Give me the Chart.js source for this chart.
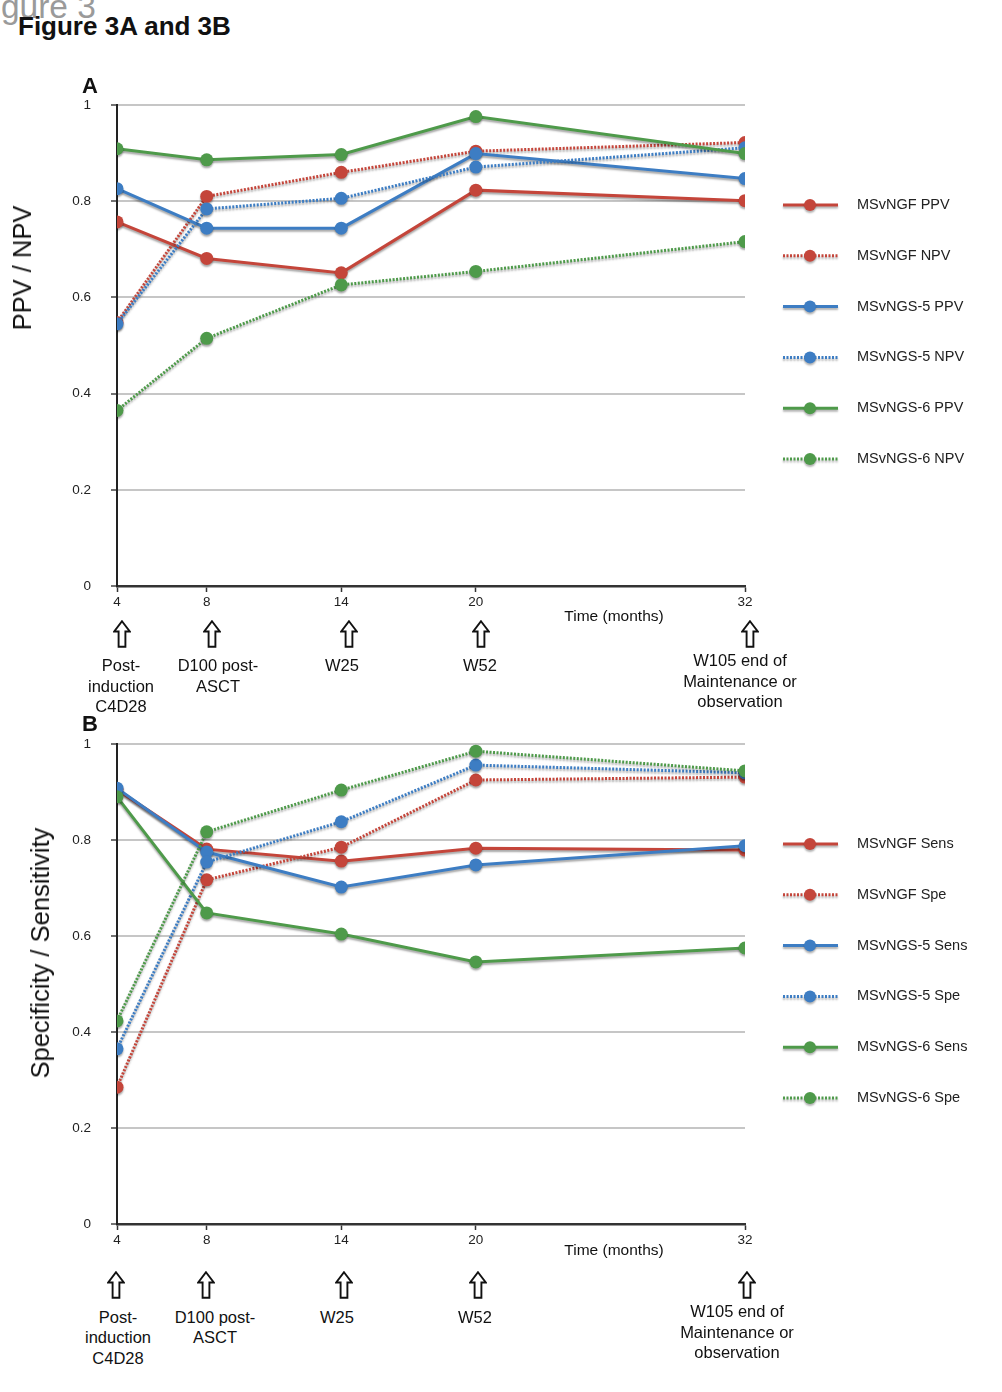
<!DOCTYPE html>
<html>
<head>
<meta charset="utf-8">
<title>Figure 3A and 3B</title>
<script src="https://cdn.jsdelivr.net/npm/chart.js@4.4.1/dist/chart.umd.min.js"></script>
<style>
  body {
    margin: 0;
    width: 1002px;
    height: 1392px;
    position: relative;
    overflow: hidden;
    background: #fff;
    font-family: "Liberation Sans", Arial, Helvetica, sans-serif;
    color: #111;
  }
  .abs { position: absolute; white-space: nowrap; }
  .chartbox { position: absolute; left: 0; width: 1002px; }
  .ghost { left: -27px; top: -10px; font-size: 33.5px; line-height: 33.5px; color: #9a9a9a; }
  .title { left: 18px; top: 13px; font-size: 26px; line-height: 26px; font-weight: bold; }
  .panel { font-size: 22px; line-height: 22px; font-weight: bold; }
  .ytitle { font-size: 25.5px; line-height: 28px; transform: translate(-50%, -50%) rotate(-90deg); }
  .xtitle { font-size: 15.5px; line-height: 18px; transform: translateX(-50%); }
  .milestone { font-size: 16.5px; line-height: 20.5px; text-align: center; transform: translateX(-50%); }
  .arrow { transform: translateX(-50%); }
</style>
</head>
<body>
<div class="chartbox" style="top:60px;height:560px"><canvas id="chartA"></canvas></div>
<div class="chartbox" style="top:699px;height:559px"><canvas id="chartB"></canvas></div>

<div class="abs ghost">Figure 3</div>
<div class="abs title">Figure 3A and 3B</div>
<div class="abs panel" style="left:82px;top:75px">A</div>
<div class="abs panel" style="left:82px;top:713px">B</div>
<div class="abs ytitle" style="left:22px;top:268px">PPV / NPV</div>
<div class="abs ytitle" style="left:40px;top:953px">Specificity / Sensitivity</div>
<div class="abs xtitle" style="left:614px;top:607px">Time (months)</div>
<div class="abs xtitle" style="left:614px;top:1241px">Time (months)</div>
<div id="notes"></div>

<script>
const timeMonths = [4, 8, 14, 20, 32];
const xTickValues = [4, 8, 14, 20, 32];

const seriesNamesA = ["MSvNGF PPV", "MSvNGF NPV", "MSvNGS-5 PPV", "MSvNGS-5 NPV", "MSvNGS-6 PPV", "MSvNGS-6 NPV"];
const ngfPpv = [0.757, 0.681, 0.651, 0.823, 0.801];
const ngfNpv = [0.548, 0.810, 0.860, 0.904, 0.922];
const ngs5Ppv = [0.826, 0.744, 0.744, 0.899, 0.847];
const ngs5Npv = [0.545, 0.784, 0.806, 0.871, 0.911];
const ngs6Ppv = [0.909, 0.886, 0.897, 0.976, 0.899];
const ngs6Npv = [0.365, 0.515, 0.626, 0.654, 0.716];

const seriesNamesB = ["MSvNGF Sens", "MSvNGF Spe", "MSvNGS-5 Sens", "MSvNGS-5 Spe", "MSvNGS-6 Sens", "MSvNGS-6 Spe"];
const ngfSens = [0.905, 0.781, 0.756, 0.783, 0.779];
const ngfSpe = [0.285, 0.717, 0.785, 0.925, 0.931];
const ngs5Sens = [0.908, 0.775, 0.702, 0.748, 0.788];
const ngs5Spe = [0.365, 0.754, 0.838, 0.956, 0.940];
const ngs6Sens = [0.890, 0.648, 0.604, 0.546, 0.575];
const ngs6Spe = [0.423, 0.817, 0.904, 0.985, 0.944];

const milestoneLabels = ["Post-<br>induction<br>C4D28", "D100 post-<br>ASCT", "W25", "W52", "W105 end of<br>Maintenance or<br>observation"];

const seriesColors = ["#c4453a", "#3d7dc3", "#4e9a4a"];
const fontFamily = '"Liberation Sans", Arial, Helvetica, sans-serif';

Chart.defaults.font.family = fontFamily;
Chart.defaults.color = "#222";

// page layout of the arrows / milestone captions under each panel
const notesLayout = [
  { arrowX: [122, 212, 349, 481, 750], arrowTop: 620, labelX: [121, 218, 342, 480, 740], baseline: [671, 671, 671, 671, 666] },
  { arrowX: [116, 206, 344, 478, 747], arrowTop: 1271, labelX: [118, 215, 337, 475, 737], baseline: [1322.5, 1322.5, 1322.5, 1322.5, 1317] }
];

function addNotes() {
  const holder = document.getElementById("notes");
  const arrowSvg = '<svg width="18" height="28" viewBox="0 0 18 28"><polygon points="9,1.2 16.8,11.5 12.4,11.5 12.4,26.8 5.6,26.8 5.6,11.5 1.2,11.5" fill="#fff" stroke="#111" stroke-width="1.9" stroke-linejoin="miter"/></svg>';
  notesLayout.forEach((layout) => {
    milestoneLabels.forEach((text, i) => {
      const arrow = document.createElement("div");
      arrow.className = "abs arrow";
      arrow.style.left = layout.arrowX[i] + "px";
      arrow.style.top = layout.arrowTop + "px";
      arrow.innerHTML = arrowSvg;
      holder.appendChild(arrow);

      const label = document.createElement("div");
      label.className = "abs milestone";
      label.style.left = layout.labelX[i] + "px";
      label.style.top = (layout.baseline[i] - 15.9) + "px";
      label.innerHTML = text;
      holder.appendChild(label);
    });
  });
}

function buildDatasets(names, seriesList) {
  return seriesList.map((values, i) => {
    const color = seriesColors[Math.floor(i / 2)];
    const dotted = i % 2 === 1;
    return {
      label: names[i],
      data: values.map((value, k) => ({ x: timeMonths[k], y: value })),
      borderColor: color,
      backgroundColor: color,
      pointBackgroundColor: color,
      pointBorderColor: color,
      pointBorderWidth: 0,
      pointRadius: 6.5,
      pointHoverRadius: 6.5,
      borderWidth: 3,
      borderDash: dotted ? [2, 1.5] : [],
      tension: 0,
      order: seriesList.length - i
    };
  });
}

const shadowPlugin = {
  id: "shadow",
  beforeDatasetDraw(chart) {
    const ctx = chart.ctx;
    ctx.save();
    ctx.shadowColor = "rgba(0, 0, 0, 0.35)";
    ctx.shadowBlur = 2;
    ctx.shadowOffsetY = 2;
  },
  afterDatasetDraw(chart) {
    chart.ctx.restore();
  }
};

const sideLegend = {
  id: "sideLegend",
  afterDraw(chart) {
    const { ctx, chartArea } = chart;
    chart.data.datasets.forEach((ds, i) => {
      const y = chartArea.top + 100 + i * 50.8;
      const x0 = chartArea.right + 38;
      ctx.save();
      ctx.shadowColor = "rgba(0, 0, 0, 0.3)";
      ctx.shadowBlur = 2;
      ctx.shadowOffsetY = 2;
      ctx.strokeStyle = ds.borderColor;
      ctx.lineWidth = ds.borderWidth;
      ctx.setLineDash(ds.borderDash);
      ctx.beginPath();
      ctx.moveTo(x0, y);
      ctx.lineTo(x0 + 55, y);
      ctx.stroke();
      ctx.setLineDash([]);
      ctx.fillStyle = ds.borderColor;
      ctx.beginPath();
      ctx.arc(x0 + 27, y, 6, 0, Math.PI * 2);
      ctx.fill();
      ctx.restore();

      ctx.save();
      ctx.fillStyle = "#222";
      ctx.font = "14.5px " + fontFamily;
      ctx.textBaseline = "middle";
      ctx.fillText(ds.label, x0 + 74, y);
      ctx.restore();
    });
  }
};

function buildOptions() {
  return {
    responsive: true,
    maintainAspectRatio: false,
    animation: false,
    layout: { padding: { top: 45, right: 257, left: 0, bottom: 0 } },
    plugins: {
      legend: { display: false },
      tooltip: { enabled: false }
    },
    scales: {
      x: {
        type: "linear",
        min: 4,
        max: 32,
        afterBuildTicks: (scale) => {
          scale.ticks = xTickValues.map((value) => ({ value }));
        },
        afterFit: (scale) => {
          scale.height = 34;
        },
        grid: { drawOnChartArea: false, drawTicks: true, tickLength: 6, tickColor: "#333", tickWidth: 1.5 },
        border: { color: "#333", width: 2.5 },
        ticks: { color: "#222", font: { size: 13.5 }, padding: 2, maxRotation: 0, autoSkip: false }
      },
      y: {
        min: 0,
        max: 1,
        afterFit: (scale) => {
          scale.width = 117;
        },
        grid: { color: "#c6c6c6", lineWidth: 2, tickColor: "#444", tickLength: 6, tickWidth: 1.5 },
        border: { color: "#222", width: 2 },
        ticks: {
          stepSize: 0.2,
          color: "#222",
          font: { size: 13.5 },
          padding: 20,
          callback: (value) => String(Number(value.toFixed(2)))
        }
      }
    }
  };
}

new Chart(document.getElementById("chartA"), {
  type: "line",
  data: { datasets: buildDatasets(seriesNamesA, [ngfPpv, ngfNpv, ngs5Ppv, ngs5Npv, ngs6Ppv, ngs6Npv]) },
  options: buildOptions(),
  plugins: [shadowPlugin, sideLegend]
});

new Chart(document.getElementById("chartB"), {
  type: "line",
  data: { datasets: buildDatasets(seriesNamesB, [ngfSens, ngfSpe, ngs5Sens, ngs5Spe, ngs6Sens, ngs6Spe]) },
  options: buildOptions(),
  plugins: [shadowPlugin, sideLegend]
});

addNotes();
</script>
</body>
</html>
